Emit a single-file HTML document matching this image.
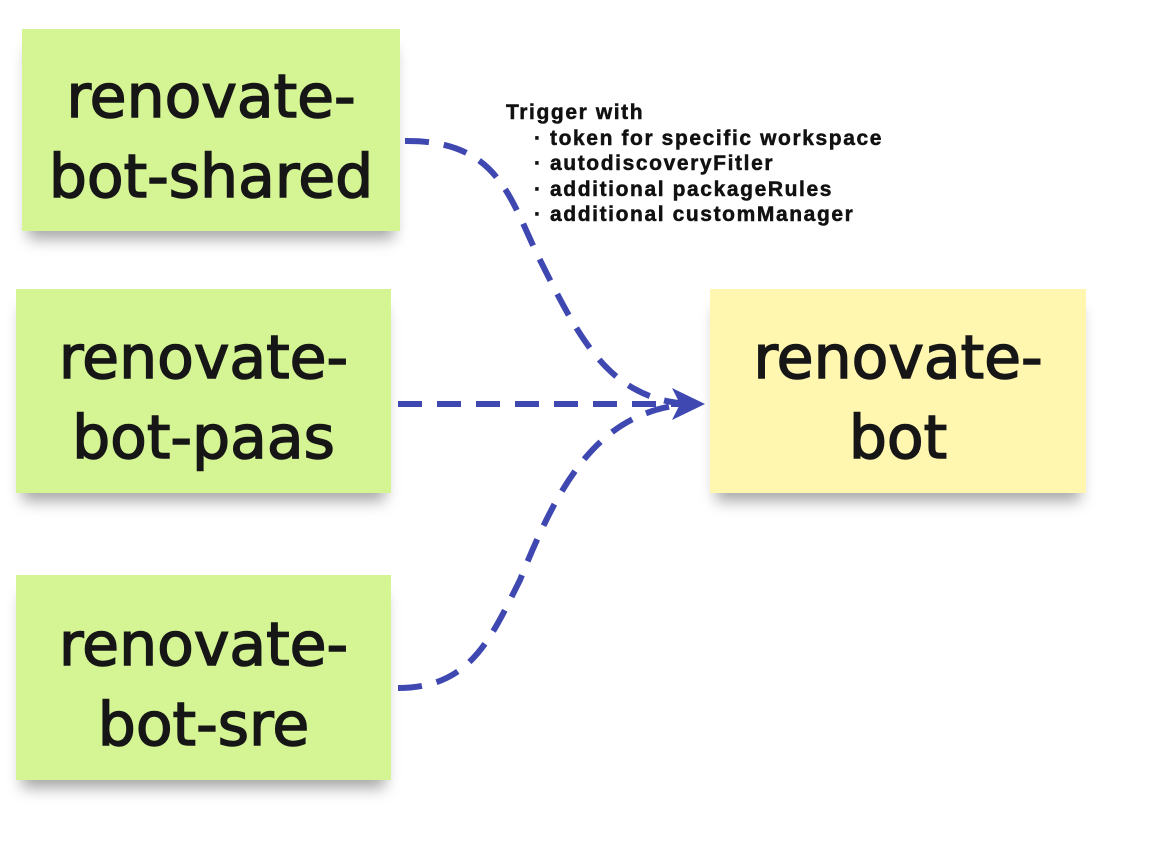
<!DOCTYPE html>
<html><head><meta charset="utf-8"><style>
body{margin:0;width:1168px;height:856px;background:#fff;position:relative;overflow:hidden;font-family:"Liberation Sans",sans-serif}
.n{position:absolute;display:flex;align-items:center;justify-content:center;text-align:center;font-size:60px;line-height:80px;color:#161616;box-shadow:0 14px 14px -6px rgba(0,0,0,.35);font-family:"DejaVu Sans","Liberation Sans",sans-serif;-webkit-text-stroke:1.5px #161616}
.g{background:#d5f594}
.y{background:#fff7b0}
.t{position:absolute;left:506px;top:100px;font-weight:bold;font-size:21px;letter-spacing:1.6px;line-height:25.5px;color:#111;-webkit-text-stroke:0.5px #111}
.t ul{margin:0;padding-left:44px}
</style></head><body>
<div class="n g" style="left:22px;top:29px;width:378px;height:202px"><div style="margin-top:14px">renovate-<br>bot-shared</div></div>
<div class="n g" style="left:16px;top:289px;width:375px;height:204px"><div style="margin-top:14px">renovate-<br>bot-paas</div></div>
<div class="n g" style="left:16px;top:575px;width:375px;height:205px"><div style="margin-top:14px">renovate-<br>bot-sre</div></div>
<div class="n y" style="left:710px;top:289px;width:376px;height:204px"><div style="margin-top:14px">renovate-<br>bot</div></div>
<div class="t">Trigger with<ul style="list-style:'· '">
<li>token for specific workspace</li><li>autodiscoveryFitler</li><li>additional packageRules</li><li>additional customManager</li></ul></div>
<svg width="1168" height="856" style="position:absolute;left:0;top:0">
<g fill="none" stroke="#3f48b0" stroke-width="6" stroke-dasharray="24 15">
<path d="M405 141 C500 140 510 200 540 260 C580 340 610 400 690 404"/>
<path d="M398 404 L690 404"/>
<path d="M398 688 C470 688 490 640 520 580 C560 480 600 410 690 404"/>
</g>
<path d="M672 388 L705 404 L672 420 L680 404 Z" fill="#3f48b0"/>
</svg>
</body></html>
